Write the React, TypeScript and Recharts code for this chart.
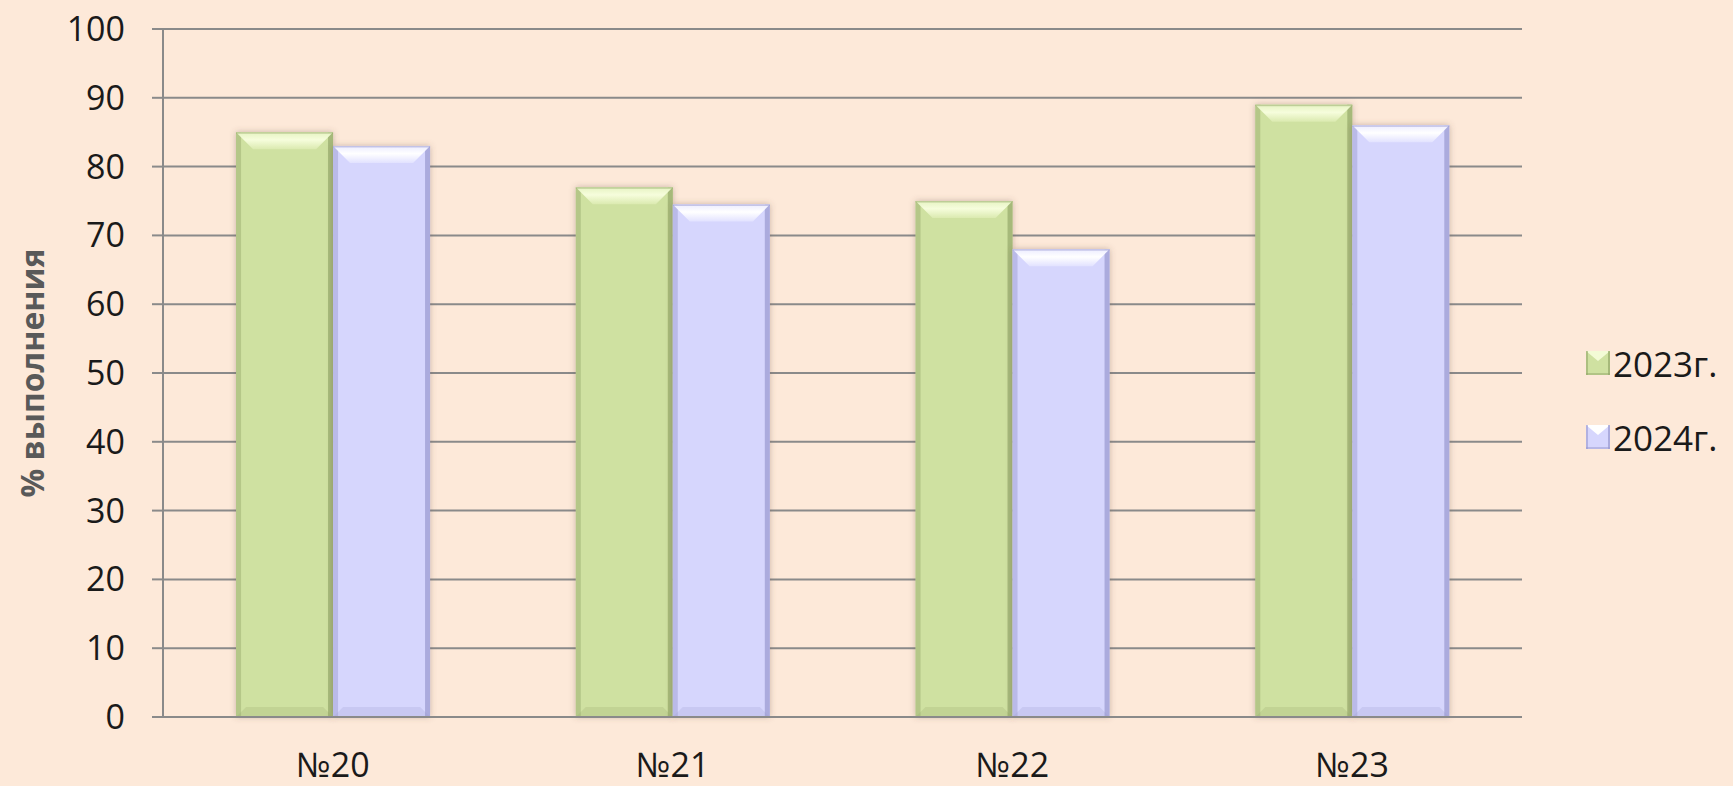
import React from 'react';
import { BarChart, Bar, XAxis, YAxis, CartesianGrid, Legend, Label } from 'recharts';

const categories = ['№20', '№21', '№22', '№23'];
const values2023 = [85, 77, 75, 89];
const values2024 = [83, 74.5, 68, 86];
const yTicks = [0, 10, 20, 30, 40, 50, 60, 70, 80, 90, 100];

const data = categories.map((name, i) => ({ name, y2023: values2023[i], y2024: values2024[i] }));

const GREEN = { base: '#cfe1a1', light: '#f3fbd6', dark: '#94a86a', bottom: '#c2d394' };
const PURPLE = { base: '#d6d6fd', light: '#ffffff', dark: '#9898cf', bottom: '#c8c8f2' };

const FONT = '"Open Sans", sans-serif';

const makeBevel = (c: typeof GREEN, gid: string) => (props: any) => {
  const { x, y, width, height } = props;
  if (!height || height <= 0) return null;
  const b = Math.min(17, height / 2);
  const s = 5;
  const bb = 10;
  return (
    <g filter="url(#barShadow)">
      <rect x={x} y={y} width={width} height={height} fill={c.base} />
      <polygon
        points={`${x},${y + height} ${x + width},${y + height} ${x + width - bb},${y + height - bb} ${x + bb},${y + height - bb}`}
        fill={c.bottom}
      />
      <rect x={x} y={y} width={s} height={height} fill={c.dark} opacity={0.45} />
      <rect x={x + width - s} y={y} width={s} height={height} fill={c.dark} opacity={0.7} />
      <polygon
        points={`${x},${y} ${x + width},${y} ${x + width - b},${y + b} ${x + b},${y + b}`}
        fill={`url(#${gid})`}
      />
      <rect x={x} y={y} width={width} height={1.5} fill={c.dark} opacity={0.5} />
    </g>
  );
};

const LegendSwatch = ({ c }: { c: typeof GREEN }) => (
  <svg width={24} height={24} style={{ display: 'block' }}>
    <rect x={0} y={0} width={24} height={24} fill={c.base} />
    <polygon points="0,0 24,0 12,10" fill={c.light} />
    <rect x={0} y={0} width={2} height={24} fill={c.dark} opacity={0.6} />
    <rect x={22} y={0} width={2} height={24} fill={c.dark} opacity={0.7} />
    <rect x={0} y={22} width={24} height={2} fill={c.dark} opacity={0.5} />
  </svg>
);

const renderLegend = () => (
  <div style={{ fontFamily: FONT, fontSize: 35, color: '#1a1a1a' }}>
    {[
      { label: '2023г.', c: GREEN },
      { label: '2024г.', c: PURPLE },
    ].map((it, i) => (
      <div key={it.label} style={{ display: 'flex', alignItems: 'center', height: 46, marginBottom: i === 0 ? 28 : 0 }}>
        <LegendSwatch c={it.c} />
        <span style={{ marginLeft: 3 }}>{it.label}</span>
      </div>
    ))}
  </div>
);

export default function App() {
  return (
    <div style={{ position: 'fixed', left: 0, top: 0, width: 1733, height: 786, background: '#fde9d9' }}>
      <BarChart
        width={1733}
        height={786}
        data={data}
        margin={{ top: 29, right: 64, left: 0, bottom: 9 }}
        barCategoryGap="21.5%"
        barGap={0}
      >
        <defs>
          <filter id="barShadow" x="-20%" y="-10%" width="140%" height="120%">
            <feDropShadow dx="0" dy="0" stdDeviation="3" floodColor="#6b5040" floodOpacity="0.35" />
          </filter>
          <linearGradient id="topGreen" x1="0" y1="0" x2="0" y2="1">
            <stop offset="0%" stopColor="#e6f3c2" />
            <stop offset="45%" stopColor="#f6fddc" />
            <stop offset="100%" stopColor="#dbeab0" />
          </linearGradient>
          <linearGradient id="topPurple" x1="0" y1="0" x2="0" y2="1">
            <stop offset="0%" stopColor="#ececff" />
            <stop offset="45%" stopColor="#ffffff" />
            <stop offset="100%" stopColor="#e2e2ff" />
          </linearGradient>
        </defs>
        <CartesianGrid vertical={false} stroke="#8a8a8a" strokeWidth={2} />
        <XAxis
          dataKey="name"
          axisLine={{ stroke: '#8a8a8a', strokeWidth: 2 }}
          tickLine={false}
          tickSize={0}
          tickMargin={36}
          height={60}
          tick={{ fontFamily: FONT, fontSize: 34, fill: '#1a1a1a' }}
        />
        <YAxis
          width={163}
          domain={[0, 100]}
          ticks={yTicks}
          interval={0}
          axisLine={{ stroke: '#8a8a8a', strokeWidth: 2 }}
          tickLine={{ stroke: '#8a8a8a', strokeWidth: 2 }}
          tickSize={11}
          tickMargin={27}
          tick={{ fontFamily: FONT, fontSize: 34, fill: '#1a1a1a' }}
        >
          <Label
            content={(p: any) => {
              const vb = p.viewBox || {};
              const cy = (vb.y ?? 29) + (vb.height ?? 688) / 2;
              return (
                <text
                  transform={`translate(31, ${cy}) rotate(-90)`}
                  textAnchor="middle"
                  dominantBaseline="central"
                  fontFamily={FONT}
                  fontWeight="bold"
                  fontSize={32}
                  fill="#595959"
                >
                  % выполнения
                </text>
              );
            }}
          />
        </YAxis>
        <Legend
          layout="horizontal"
          verticalAlign="middle"
          align="right"
          wrapperStyle={{ left: 1586, top: 340, width: 147 }}
          content={renderLegend}
        />
        <Bar dataKey="y2023" name="2023г." fill={GREEN.base} shape={makeBevel(GREEN, 'topGreen')} isAnimationActive={false} />
        <Bar dataKey="y2024" name="2024г." fill={PURPLE.base} shape={makeBevel(PURPLE, 'topPurple')} isAnimationActive={false} />
      </BarChart>
    </div>
  );
}
